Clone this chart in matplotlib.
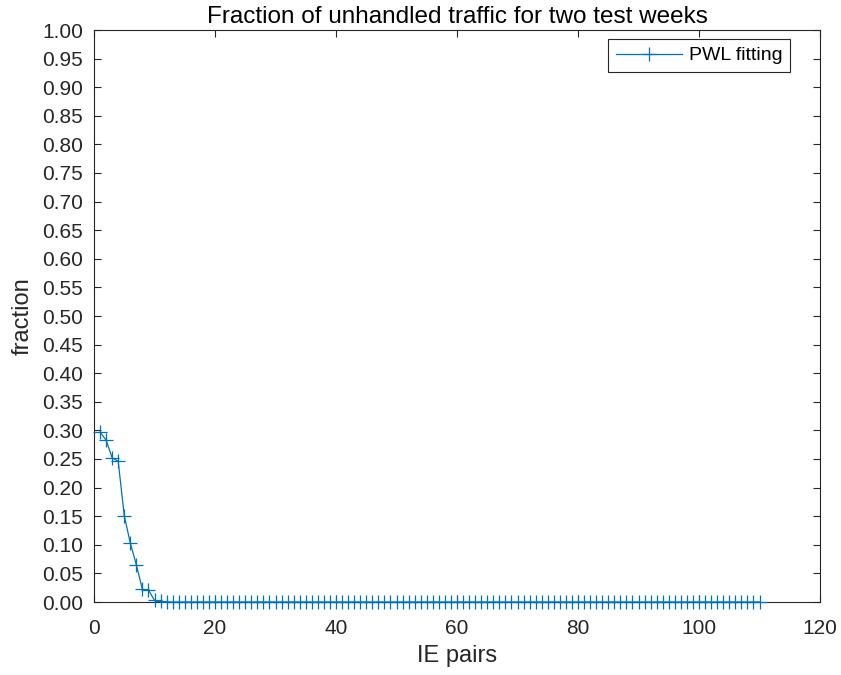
"""Fraction of unhandled traffic vs number of IE pairs (PWL fitting)."""
import matplotlib

matplotlib.use("Agg")
import matplotlib.pyplot as plt
import numpy as np

plt.rcParams["font.family"] = ["Liberation Sans", "DejaVu Sans"]

# values, one per IE pair count
IE_PAIRS = list(range(1, 111))
HEAD = [0.297, 0.283, 0.252, 0.246, 0.151, 0.103, 0.065, 0.022, 0.021, 0.003, 0.001]
FRACTION = HEAD + [0.0] * (len(IE_PAIRS) - len(HEAD))

BLUE = "#0072BD"
AX_COL = "#262626"

fig = plt.figure(figsize=(8.41, 6.75), dpi=100)
ax = fig.add_axes([94 / 841, 1 - 602 / 675, (820 - 94) / 841, (602 - 30) / 675])

ax.plot(IE_PAIRS, FRACTION, color=BLUE, lw=0.9, marker="+", ms=9.5, mew=0.9,
        label="PWL fitting", clip_on=False, zorder=3)

ax.set_xlim(0, 120)
ax.set_ylim(0, 1)
ax.set_xticks(range(0, 121, 20))
yt = np.round(np.arange(0, 1.0001, 0.05), 2)
ax.set_yticks(yt)
ax.set_yticklabels([f"{v:.2f}" for v in yt])
ax.tick_params(direction="in", length=5, width=0.8, colors=AX_COL, labelsize=15,
               top=True, right=True)
ax.tick_params(axis="x", pad=12)
ax.tick_params(axis="y", pad=8)
for s in ax.spines.values():
    s.set_color(AX_COL)
    s.set_linewidth(0.8)

ax.set_xlabel("IE pairs", fontsize=17, color=AX_COL, labelpad=5)
ax.set_ylabel("fraction", fontsize=17, color=AX_COL, labelpad=6)
ax.set_title("Fraction of unhandled traffic for two test weeks", fontsize=17.5,
             color="black", pad=5)

leg = ax.legend(loc="upper right", bbox_to_anchor=(0.9587, 0.9843), borderaxespad=0,
                fontsize=14, fancybox=False, framealpha=1, edgecolor=AX_COL,
                handlelength=3.4, handletextpad=0.35, borderpad=0.4)
leg.get_frame().set_linewidth(0.8)

fig.savefig("out.png", dpi=100)
